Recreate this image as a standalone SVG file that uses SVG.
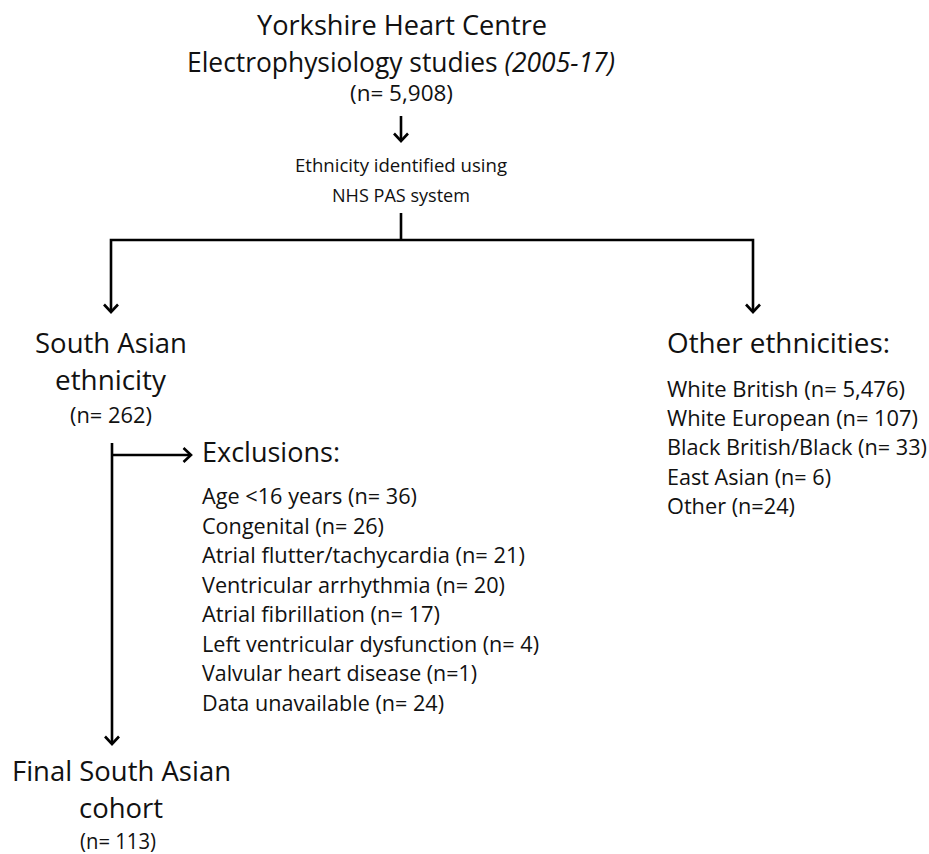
<svg xmlns="http://www.w3.org/2000/svg" width="929" height="854" viewBox="0 0 929 854">
<style>
text{font-family:"Open Sans","Noto Sans","Liberation Sans",sans-serif;fill:#111;}
.big{font-size:27.3px;}
.mid{font-size:21.5px;}
.sm{font-size:18.5px;}
.c{text-anchor:middle;}
.ln{fill:none;stroke:#000;stroke-width:2.6;stroke-linejoin:miter;}
</style>
<defs>
<marker id="arr" markerUnits="userSpaceOnUse" viewBox="-12 -10 14 20" markerWidth="14" markerHeight="20" refX="0" refY="0" orient="auto">
<path d="M-7.5,-7 L0,0 L-7.5,7" fill="none" stroke="#000" stroke-width="2.6"/>
</marker>
</defs>
<rect width="929" height="854" fill="#fff"/>
<g id="connectors">
<path class="ln" d="M401,116 V141" marker-end="url(#arr)"/>
<path class="ln" d="M401,213 V240"/>
<path class="ln" d="M401,240 H111 V312" marker-end="url(#arr)"/>
<path class="ln" d="M401,240 H753 V312" marker-end="url(#arr)"/>
<path class="ln" d="M112,443 V744" marker-end="url(#arr)"/>
<path class="ln" d="M112,455 H191" marker-end="url(#arr)"/>
</g>
<g id="source">
<text class="big c" x="402" y="35" textLength="290" lengthAdjust="spacingAndGlyphs">Yorkshire Heart Centre</text>
<text class="big c" x="401" y="72" textLength="428" lengthAdjust="spacingAndGlyphs">Electrophysiology studies <tspan font-style="italic">(2005-17)</tspan></text>
<text class="mid c" x="401.5" y="101" textLength="103" lengthAdjust="spacingAndGlyphs">(n= 5,908)</text>
</g>
<g id="method">
<text class="sm c" x="401" y="172" textLength="212" lengthAdjust="spacingAndGlyphs">Ethnicity identified using</text>
<text class="sm c" x="401" y="202" textLength="138" lengthAdjust="spacingAndGlyphs">NHS PAS system</text>
</g>
<g id="south-asian">
<text class="big c" x="111" y="353" textLength="152" lengthAdjust="spacingAndGlyphs">South Asian</text>
<text class="big c" x="110.5" y="390" textLength="111" lengthAdjust="spacingAndGlyphs">ethnicity</text>
<text class="mid c" x="111" y="423" textLength="82" lengthAdjust="spacingAndGlyphs">(n= 262)</text>
</g>
<g id="other-ethnicities">
<text class="big" x="667" y="353" textLength="223" lengthAdjust="spacingAndGlyphs">Other ethnicities:</text>
<text class="mid" x="667" y="397" textLength="238" lengthAdjust="spacingAndGlyphs">White British (n= 5,476)</text>
<text class="mid" x="667" y="426" textLength="251" lengthAdjust="spacingAndGlyphs">White European (n= 107)</text>
<text class="mid" x="667" y="455" textLength="260" lengthAdjust="spacingAndGlyphs">Black British/Black (n= 33)</text>
<text class="mid" x="667" y="484.5" textLength="164" lengthAdjust="spacingAndGlyphs">East Asian (n= 6)</text>
<text class="mid" x="667" y="514" textLength="128" lengthAdjust="spacingAndGlyphs">Other (n=24)</text>
</g>
<g id="exclusions">
<text class="big" x="202" y="462" textLength="138" lengthAdjust="spacingAndGlyphs">Exclusions:</text>
<text class="mid" x="202" y="504" textLength="215" lengthAdjust="spacingAndGlyphs">Age &lt;16 years (n= 36)</text>
<text class="mid" x="202" y="533.5" textLength="182" lengthAdjust="spacingAndGlyphs">Congenital (n= 26)</text>
<text class="mid" x="202" y="563" textLength="323" lengthAdjust="spacingAndGlyphs">Atrial flutter/tachycardia (n= 21)</text>
<text class="mid" x="202" y="592.5" textLength="303" lengthAdjust="spacingAndGlyphs">Ventricular arrhythmia (n= 20)</text>
<text class="mid" x="202" y="622" textLength="238" lengthAdjust="spacingAndGlyphs">Atrial fibrillation (n= 17)</text>
<text class="mid" x="202" y="651.5" textLength="337" lengthAdjust="spacingAndGlyphs">Left ventricular dysfunction (n= 4)</text>
<text class="mid" x="202" y="681" textLength="275" lengthAdjust="spacingAndGlyphs">Valvular heart disease (n=1)</text>
<text class="mid" x="202" y="710.5" textLength="242" lengthAdjust="spacingAndGlyphs">Data unavailable (n= 24)</text>
</g>
<g id="final-cohort">
<text class="big c" x="121.5" y="781" textLength="219" lengthAdjust="spacingAndGlyphs">Final South Asian</text>
<text class="big c" x="121" y="818" textLength="84" lengthAdjust="spacingAndGlyphs">cohort</text>
<text class="mid c" x="118" y="849" textLength="76" lengthAdjust="spacingAndGlyphs">(n= 113)</text>
</g>
</svg>
